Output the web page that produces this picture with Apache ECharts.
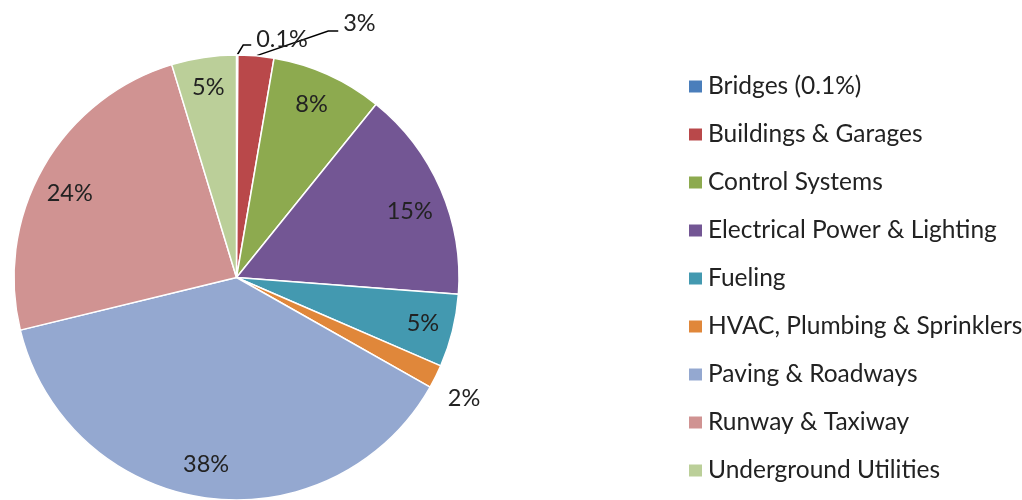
<!DOCTYPE html>
<html>
<head>
<meta charset="utf-8">
<script src="https://cdn.jsdelivr.net/npm/echarts@6/dist/echarts.min.js"></script>
<style>
html,body{margin:0;padding:0;background:#fff;}
#chart{width:1022px;height:500px;}
</style>
</head>
<body>
<div id="chart"></div>
<script>
const categories = ['Bridges (0.1%)', 'Buildings & Garages', 'Control Systems', 'Electrical Power & Lighting', 'Fueling', 'HVAC, Plumbing & Sprinklers', 'Paving & Roadways', 'Runway & Taxiway', 'Underground Utilities'];
const shares = [0.1, 2.6, 8.1, 15.4, 5.3, 1.7, 38.0, 24.1, 4.7];
const colors = ['#4A7EBB', '#B9484A', '#8DAA4F', '#735694', '#4399B0', '#E0873A', '#94A8D0', '#D09392', '#BBCF99'];
const outsideLabels = ['Bridges (0.1%)', 'Buildings & Garages', 'HVAC, Plumbing & Sprinklers'];

const FONT = 'Lato';
const fmt = p => p.percent < 1 ? p.percent.toFixed(1) + '%' : Math.round(p.percent) + '%';

const outerLine = {
  'Bridges (0.1%)': { show: true, length: 10, length2: 14 },
  'Buildings & Garages': { show: true, length: 25, length2: 80 },
  'HVAC, Plumbing & Sprinklers': { show: false, length: 8, length2: 0 }
};
// label nudges (Excel best-fit placement)
const labelNudge = {
  'Bridges (0.1%)': { dy: -6, bend: 'start', bendOff: 6 },
  'Buildings & Garages': { dy: -8, bend: 'end', bendOff: 10 },
  'HVAC, Plumbing & Sprinklers': { dy: 18 },
  'Electrical Power & Lighting': { dy: 10, dx: -3 },
  'Runway & Taxiway': { dy: 11 },
  'Control Systems': { dx: -4, dy: 2 },
  'Paving & Roadways': { dx: -4, dy: -3 }
};

const mainData = categories.map((name, i) => {
  const item = { name: name, value: shares[i], itemStyle: { color: colors[i] } };
  if (outsideLabels.includes(name)) {
    item.label = { show: true, position: 'outside' };
    item.labelLine = outerLine[name];
  }
  return item;
});
const labelData = categories.map((name, i) => ({
  name: name, value: shares[i],
  label: { show: !outsideLabels.includes(name) }
}));

function layoutFn(params) {
  const name = categories[params.dataIndex];
  const n = labelNudge[name];
  if (!n) return {};
  const res = {};
  if (n.dy) res.dy = n.dy;
  if (n.dx) res.dx = n.dx;
  const pts = params.labelLinePoints;
  if (n.bend && pts && pts.length === 3) {
    const p0 = pts[0], p2 = pts[2];
    const mid = n.bend === 'end' ? [p2[0] - n.bendOff, p2[1]] : [p0[0] + n.bendOff, p2[1]];
    res.labelLinePoints = [p0, mid, p2];
  }
  return res;
}

const chart = echarts.init(document.getElementById('chart'));
chart.setOption({
  animation: false,
  backgroundColor: '#fff',
  legend: {
    orient: 'vertical',
    left: 682,
    top: 69,
    itemWidth: 15,
    itemHeight: 14,
    itemGap: 23,
    icon: 'rect',
    data: categories,
    textStyle: { fontFamily: FONT, fontSize: 24.5, color: '#222', lineHeight: 24 }
  },
  series: [
    {
      type: 'pie',
      center: [236.5, 277.5],
      radius: [0, 222.5],
      startAngle: 90,
      clockwise: true,
      avoidLabelOverlap: false,
      data: mainData,
      itemStyle: { borderColor: '#fff', borderWidth: 1.5 },
      label: { show: false, formatter: fmt, fontFamily: FONT, fontSize: 23.5, color: '#222' },
      labelLine: { lineStyle: { color: '#000', width: 1.5 }, smooth: false },
      labelLayout: layoutFn,
      emphasis: { disabled: true }
    },
    {
      type: 'pie',
      center: [236.5, 277.5],
      radius: [0, 378],
      startAngle: 90,
      clockwise: true,
      silent: true,
      legendHoverLink: false,
      avoidLabelOverlap: false,
      data: labelData,
      itemStyle: { color: 'rgba(0,0,0,0)', borderWidth: 0 },
      label: { position: 'inside', formatter: fmt, fontFamily: FONT, fontSize: 23.5, color: '#222' },
      labelLine: { show: false },
      labelLayout: layoutFn,
      emphasis: { disabled: true }
    }
  ]
});
</script>
</body>
</html>
